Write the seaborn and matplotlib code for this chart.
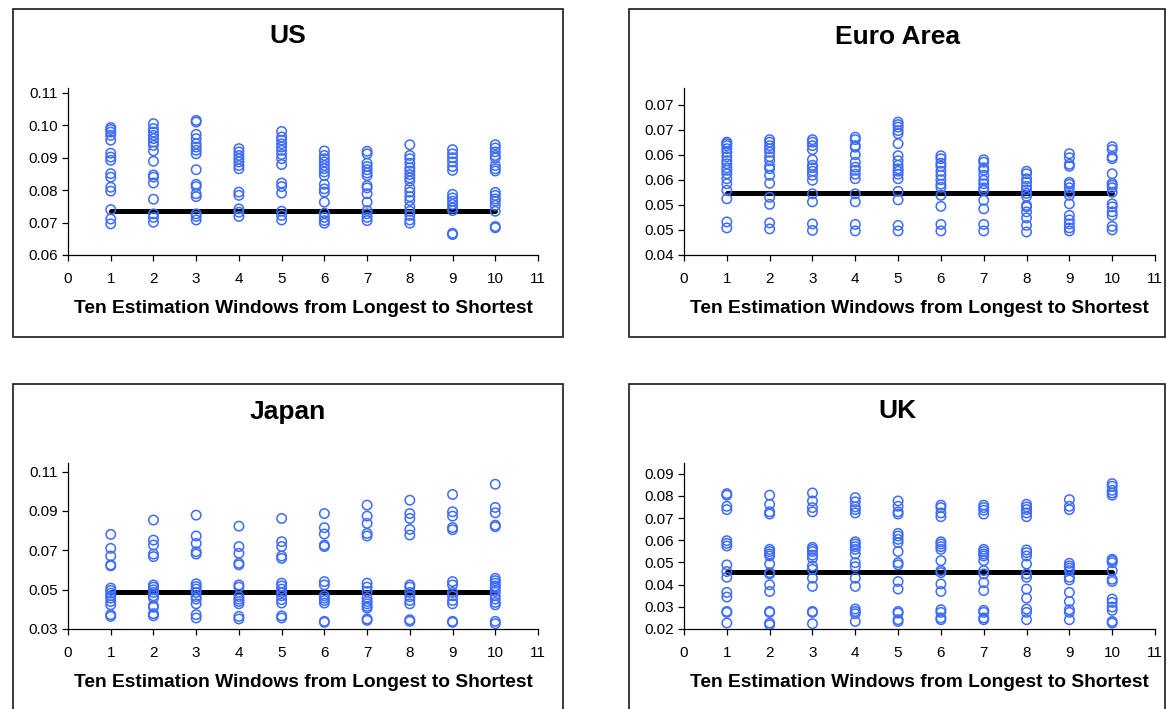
import numpy as np
import pandas as pd
import matplotlib
matplotlib.use("Agg")
import matplotlib.pyplot as plt
from matplotlib.patches import Rectangle
import seaborn as sns

sns.set_theme(style="white")
plt.rcParams['font.family'] = ['Liberation Sans', 'DejaVu Sans']
plt.rcParams['text.color'] = 'black'
plt.rcParams['axes.labelcolor'] = 'black'

windows = [1, 2, 3, 4, 5, 6, 7, 8, 9, 10]
x_ticks = [0, 1, 2, 3, 4, 5, 6, 7, 8, 9, 10, 11]
x_label = "Ten Estimation Windows from Longest to Shortest"

# ---------------- US ----------------
us_title = "US"
us_mean = 0.0737
us_yticks = [0.06, 0.07, 0.08, 0.09, 0.10, 0.11]
us_yticklabels = ["0.06", "0.07", "0.08", "0.09", "0.10", "0.11"]
us_w1 = [0.0993, 0.0987, 0.0979, 0.0969, 0.0954, 0.0914, 0.0902, 0.0892, 0.0851, 0.0840, 0.0809, 0.0797, 0.0740, 0.0711, 0.0696]
us_w2 = [0.1005, 0.0990, 0.0979, 0.0969, 0.0959, 0.0948, 0.0938, 0.0921, 0.0889, 0.0847, 0.0840, 0.0822, 0.0772, 0.0727, 0.0716, 0.0701]
us_w3 = [0.1015, 0.1010, 0.0972, 0.0959, 0.0943, 0.0933, 0.0923, 0.0912, 0.0863, 0.0818, 0.0811, 0.0789, 0.0780, 0.0727, 0.0719, 0.0708]
us_w4 = [0.0928, 0.0918, 0.0907, 0.0897, 0.0887, 0.0876, 0.0866, 0.0794, 0.0784, 0.0742, 0.0732, 0.0719]
us_w5 = [0.0981, 0.0964, 0.0954, 0.0943, 0.0933, 0.0923, 0.0910, 0.0897, 0.0879, 0.0822, 0.0811, 0.0791, 0.0735, 0.0722, 0.0708]
us_w6 = [0.0921, 0.0907, 0.0897, 0.0887, 0.0876, 0.0866, 0.0856, 0.0845, 0.0818, 0.0804, 0.0794, 0.0763, 0.0729, 0.0716, 0.0706, 0.0698]
us_w7 = [0.0920, 0.0912, 0.0883, 0.0873, 0.0863, 0.0853, 0.0845, 0.0814, 0.0807, 0.0789, 0.0763, 0.0737, 0.0727, 0.0716, 0.0706]
us_w8 = [0.0940, 0.0907, 0.0897, 0.0883, 0.0869, 0.0859, 0.0848, 0.0838, 0.0828, 0.0807, 0.0794, 0.0780, 0.0768, 0.0749, 0.0735, 0.0722, 0.0708, 0.0698]
us_w9 = [0.0925, 0.0912, 0.0900, 0.0887, 0.0873, 0.0861, 0.0787, 0.0776, 0.0766, 0.0756, 0.0745, 0.0737, 0.0667, 0.0663]
us_w10 = [0.0940, 0.0930, 0.0918, 0.0907, 0.0899, 0.0876, 0.0866, 0.0859, 0.0793, 0.0784, 0.0773, 0.0766, 0.0753, 0.0735, 0.0688, 0.0684]

# ---------------- Euro Area ----------------
ea_title = "Euro Area"
ea_mean = 0.0524
ea_yticks = [0.040, 0.045, 0.050, 0.055, 0.060, 0.065, 0.070]
ea_yticklabels = ["0.04", "0.05", "0.05", "0.06", "0.06", "0.07", "0.07"]
ea_w1 = [0.0625, 0.0622, 0.0618, 0.0612, 0.0605, 0.0596, 0.0588, 0.0582, 0.0574, 0.0569, 0.0562, 0.0552, 0.0542, 0.0529, 0.0512, 0.0466, 0.0454]
ea_w2 = [0.0630, 0.0625, 0.0618, 0.0612, 0.0605, 0.0596, 0.0588, 0.0577, 0.0572, 0.0559, 0.0543, 0.0515, 0.0501, 0.0464, 0.0452]
ea_w3 = [0.0630, 0.0625, 0.0618, 0.0610, 0.0590, 0.0579, 0.0574, 0.0567, 0.0559, 0.0549, 0.0522, 0.0506, 0.0462, 0.0449]
ea_w4 = [0.0635, 0.0630, 0.0618, 0.0615, 0.0600, 0.0585, 0.0575, 0.0569, 0.0561, 0.0552, 0.0522, 0.0506, 0.0461, 0.0448]
ea_w5 = [0.0665, 0.0660, 0.0655, 0.0648, 0.0642, 0.0622, 0.0598, 0.0588, 0.0579, 0.0572, 0.0567, 0.0561, 0.0552, 0.0527, 0.0510, 0.0459, 0.0448]
ea_w6 = [0.0598, 0.0592, 0.0583, 0.0577, 0.0567, 0.0559, 0.0550, 0.0541, 0.0535, 0.0519, 0.0497, 0.0461, 0.0448]
ea_w7 = [0.0590, 0.0585, 0.0574, 0.0569, 0.0559, 0.0549, 0.0542, 0.0534, 0.0529, 0.0509, 0.0492, 0.0461, 0.0448]
ea_w8 = [0.0567, 0.0562, 0.0552, 0.0545, 0.0537, 0.0530, 0.0523, 0.0517, 0.0499, 0.0496, 0.0486, 0.0474, 0.0459, 0.0446]
ea_w9 = [0.0602, 0.0594, 0.0581, 0.0577, 0.0545, 0.0541, 0.0534, 0.0525, 0.0519, 0.0502, 0.0479, 0.0470, 0.0462, 0.0454, 0.0448]
ea_w10 = [0.0616, 0.0610, 0.0596, 0.0592, 0.0562, 0.0543, 0.0539, 0.0534, 0.0525, 0.0502, 0.0496, 0.0486, 0.0479, 0.0457, 0.0450]

# ---------------- Japan ----------------
jp_title = "Japan"
jp_mean = 0.0487
jp_yticks = [0.03, 0.05, 0.07, 0.09, 0.11]
jp_yticklabels = ["0.03", "0.05", "0.07", "0.09", "0.11"]
jp_w1 = [0.0781, 0.0710, 0.0671, 0.0626, 0.0621, 0.0508, 0.0496, 0.0482, 0.0469, 0.0457, 0.0440, 0.0423, 0.0373, 0.0364]
jp_w2 = [0.0854, 0.0752, 0.0727, 0.0681, 0.0668, 0.0524, 0.0513, 0.0499, 0.0486, 0.0469, 0.0457, 0.0418, 0.0411, 0.0378, 0.0367]
jp_w3 = [0.0879, 0.0773, 0.0735, 0.0693, 0.0681, 0.0530, 0.0516, 0.0503, 0.0486, 0.0465, 0.0452, 0.0428, 0.0373, 0.0356]
jp_w4 = [0.0823, 0.0719, 0.0685, 0.0634, 0.0626, 0.0524, 0.0513, 0.0465, 0.0452, 0.0440, 0.0428, 0.0364, 0.0351]
jp_w5 = [0.0862, 0.0744, 0.0719, 0.0671, 0.0659, 0.0533, 0.0519, 0.0503, 0.0486, 0.0469, 0.0449, 0.0432, 0.0367, 0.0356]
jp_w6 = [0.0887, 0.0815, 0.0783, 0.0727, 0.0719, 0.0541, 0.0524, 0.0469, 0.0457, 0.0445, 0.0432, 0.0339, 0.0334]
jp_w7 = [0.0930, 0.0874, 0.0837, 0.0786, 0.0773, 0.0533, 0.0513, 0.0491, 0.0457, 0.0440, 0.0428, 0.0415, 0.0406, 0.0351, 0.0344]
jp_w8 = [0.0955, 0.0887, 0.0862, 0.0806, 0.0778, 0.0524, 0.0513, 0.0486, 0.0465, 0.0445, 0.0428, 0.0347, 0.0339]
jp_w9 = [0.0984, 0.0896, 0.0874, 0.0816, 0.0805, 0.0541, 0.0524, 0.0486, 0.0469, 0.0445, 0.0428, 0.0339, 0.0334]
jp_w10 = [0.1036, 0.0918, 0.0891, 0.0828, 0.0820, 0.0558, 0.0546, 0.0533, 0.0519, 0.0508, 0.0491, 0.0469, 0.0452, 0.0435, 0.0423, 0.0339, 0.0327]

# ---------------- UK ----------------
uk_title = "UK"
uk_mean = 0.0459
uk_yticks = [0.02, 0.03, 0.04, 0.05, 0.06, 0.07, 0.08, 0.09]
uk_yticklabels = ["0.02", "0.03", "0.04", "0.05", "0.06", "0.07", "0.08", "0.09"]
uk_w1 = [0.0810, 0.0803, 0.0753, 0.0738, 0.0598, 0.0586, 0.0574, 0.0489, 0.0459, 0.0433, 0.0365, 0.0344, 0.0279, 0.0275, 0.0227]
uk_w2 = [0.0803, 0.0762, 0.0728, 0.0718, 0.0559, 0.0549, 0.0538, 0.0529, 0.0493, 0.0454, 0.0448, 0.0399, 0.0369, 0.0279, 0.0275, 0.0227, 0.0219]
uk_w3 = [0.0813, 0.0777, 0.0747, 0.0728, 0.0568, 0.0559, 0.0549, 0.0533, 0.0519, 0.0484, 0.0469, 0.0429, 0.0392, 0.0279, 0.0275, 0.0224]
uk_w4 = [0.0792, 0.0773, 0.0750, 0.0738, 0.0723, 0.0593, 0.0583, 0.0571, 0.0559, 0.0538, 0.0499, 0.0481, 0.0429, 0.0392, 0.0290, 0.0279, 0.0269, 0.0234]
uk_w5 = [0.0777, 0.0753, 0.0728, 0.0718, 0.0631, 0.0619, 0.0604, 0.0589, 0.0549, 0.0499, 0.0489, 0.0414, 0.0380, 0.0279, 0.0272, 0.0242, 0.0234]
uk_w6 = [0.0758, 0.0747, 0.0723, 0.0706, 0.0593, 0.0583, 0.0571, 0.0559, 0.0508, 0.0463, 0.0454, 0.0403, 0.0369, 0.0287, 0.0275, 0.0250, 0.0242]
uk_w7 = [0.0758, 0.0747, 0.0735, 0.0718, 0.0559, 0.0549, 0.0538, 0.0529, 0.0508, 0.0463, 0.0448, 0.0409, 0.0373, 0.0284, 0.0275, 0.0250, 0.0242]
uk_w8 = [0.0762, 0.0750, 0.0738, 0.0723, 0.0706, 0.0556, 0.0544, 0.0529, 0.0493, 0.0448, 0.0433, 0.0380, 0.0339, 0.0290, 0.0275, 0.0242]
uk_w9 = [0.0783, 0.0753, 0.0738, 0.0496, 0.0484, 0.0474, 0.0463, 0.0433, 0.0421, 0.0365, 0.0324, 0.0287, 0.0275, 0.0242]
uk_w10 = [0.0855, 0.0843, 0.0825, 0.0813, 0.0803, 0.0514, 0.0508, 0.0499, 0.0463, 0.0424, 0.0414, 0.0335, 0.0320, 0.0299, 0.0284, 0.0234, 0.0227]


def to_frame(cols):
    rows = []
    for w, vals in zip(windows, cols):
        for v in vals:
            rows.append((w, v))
    return pd.DataFrame(rows, columns=["window", "value"])


panels = [
    dict(title=us_title, mean=us_mean, yticks=us_yticks, ylabels=us_yticklabels,
         cols=[us_w1, us_w2, us_w3, us_w4, us_w5, us_w6, us_w7, us_w8, us_w9, us_w10],
         ylim=(0.06, 0.1115), rect=[68, 88, 538, 255], box=[12.5, 8.7, 563, 337]),
    dict(title=ea_title, mean=ea_mean, yticks=ea_yticks, ylabels=ea_yticklabels,
         cols=[ea_w1, ea_w2, ea_w3, ea_w4, ea_w5, ea_w6, ea_w7, ea_w8, ea_w9, ea_w10],
         ylim=(0.04, 0.0733), rect=[684, 88, 1155, 255], box=[629.5, 9, 1165, 337]),
    dict(title=jp_title, mean=jp_mean, yticks=jp_yticks, ylabels=jp_yticklabels,
         cols=[jp_w1, jp_w2, jp_w3, jp_w4, jp_w5, jp_w6, jp_w7, jp_w8, jp_w9, jp_w10],
         ylim=(0.03, 0.1144), rect=[68, 463, 538, 629], box=[12.5, 384, 563, 715]),
    dict(title=uk_title, mean=uk_mean, yticks=uk_yticks, ylabels=uk_yticklabels,
         cols=[uk_w1, uk_w2, uk_w3, uk_w4, uk_w5, uk_w6, uk_w7, uk_w8, uk_w9, uk_w10],
         ylim=(0.02, 0.0948), rect=[684, 463, 1155, 629], box=[629.5, 384, 1165, 715]),
]

W, H = 1166, 709
fig = plt.figure(figsize=(W / 100, H / 100), dpi=100)
fig.patch.set_facecolor("white")

marker_color = "#3d6cff"

for p in panels:
    x0, y0, x1, y1 = p["box"]
    fig.patches.append(Rectangle((x0 / W, 1 - y1 / H), (x1 - x0) / W, (y1 - y0) / H,
                                 transform=fig.transFigure, fill=False,
                                 edgecolor="#1a1a1a", linewidth=1.2, zorder=0))
    l, t, r, b = p["rect"]
    ax = fig.add_axes([l / W, 1 - b / H, (r - l) / W, (b - t) / H])
    ax.set_facecolor("none")
    df = to_frame(p["cols"])
    line_df = pd.DataFrame({"window": [min(windows), max(windows)],
                            "value": [p["mean"], p["mean"]]})
    sns.lineplot(data=line_df, x="window", y="value", ax=ax, color="black",
                 linewidth=3.6, zorder=2)
    sns.scatterplot(data=df, x="window", y="value", ax=ax, marker="o",
                    facecolor="none", edgecolor=marker_color, linewidth=1.1,
                    s=46, zorder=3)
    ax.set_xlim(0, 11)
    ax.set_ylim(*p["ylim"])
    ax.set_xticks(x_ticks)
    ax.set_xticklabels([str(v) for v in x_ticks])
    ax.set_yticks(p["yticks"])
    ax.set_yticklabels(p["ylabels"])
    ax.tick_params(axis="both", which="major", direction="out", length=4,
                   width=0.9, color="black", labelsize=11, labelcolor="black",
                   bottom=True, left=True)
    ax.tick_params(axis="x", pad=8)
    ax.tick_params(axis="y", pad=3)
    for s in ["top", "right"]:
        ax.spines[s].set_visible(False)
    for s in ["left", "bottom"]:
        ax.spines[s].set_color("black")
        ax.spines[s].set_linewidth(0.9)
    ax.set_ylabel("")
    ax.set_xlabel(x_label, fontsize=13.8, fontweight="bold", labelpad=10,
                  color="black")
    fig.text(((x0 + x1) / 2) / W, 1 - (y0 + 27.5) / H, p["title"], ha="center",
             va="center", fontsize=19, fontweight="bold", color="black")

fig.savefig("out.png", dpi=100)
